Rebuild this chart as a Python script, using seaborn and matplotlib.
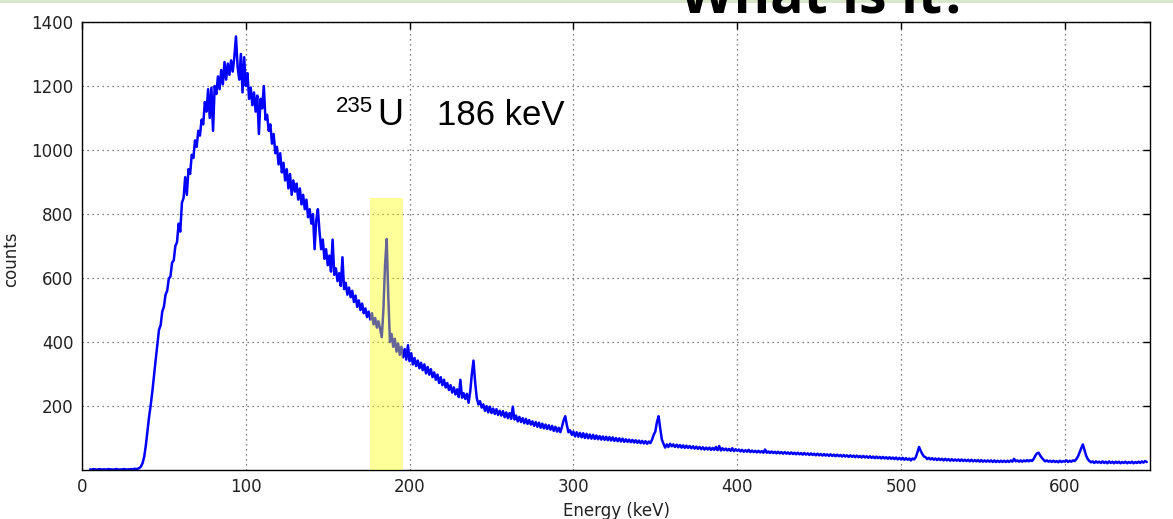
import numpy as np
import matplotlib
matplotlib.use("Agg")
import matplotlib.pyplot as plt
from matplotlib.lines import Line2D
import seaborn as sns

# ---- data (1 keV channels starting at 5 keV) ----
counts_rows = [
    [2, 1, 3, 2, 1, 2, 3, 1, 2, 2],                       # 5
    [1, 3, 2, 2, 1, 2, 3, 2, 1, 2],                       # 15
    [2, 3, 1, 2, 2, 3, 2, 4, 3, 4],                       # 25
    [6, 11, 22, 42, 78, 122, 168, 205, 248, 298],         # 35
    [345, 392, 438, 452, 495, 510, 548, 560, 598, 605],   # 45
    [648, 655, 700, 712, 770, 745, 835, 850, 915, 860],   # 55
    [940, 925, 985, 975, 1030, 1010, 1060, 1045, 1095, 1080],  # 65
    [1150, 1120, 1190, 1100, 1195, 1060, 1200, 1175, 1230, 1190],  # 75
    [1250, 1205, 1275, 1220, 1270, 1235, 1280, 1245, 1290, 1355],  # 85
    [1260, 1220, 1300, 1180, 1290, 1200, 1240, 1160, 1195, 1140],  # 95
    [1180, 1120, 1170, 1050, 1160, 1130, 1200, 1095, 1110, 1060],  # 105
    [1080, 1020, 1050, 990, 1010, 955, 990, 930, 960, 905],    # 115
    [940, 880, 925, 860, 905, 870, 895, 845, 880, 830],        # 125
    [860, 815, 845, 790, 815, 770, 800, 690, 780, 815],        # 135
    [745, 690, 720, 660, 690, 640, 670, 620, 720, 610],        # 145
    [630, 590, 615, 575, 665, 565, 585, 548, 570, 540],        # 155
    [560, 525, 545, 510, 530, 500, 520, 490, 505, 478],        # 165
    [495, 470, 490, 455, 475, 445, 465, 440, 415, 500],        # 175
    [640, 722, 540, 400, 425, 385, 410, 370, 395, 360],        # 185
    [385, 352, 378, 345, 390, 340, 365, 330, 350, 325],        # 195
    [342, 318, 335, 312, 330, 302, 322, 298, 315, 290],        # 205
    [305, 282, 298, 272, 290, 265, 282, 258, 272, 250],        # 215
    [265, 242, 258, 236, 252, 228, 282, 226, 240, 222],        # 225
    [238, 210, 245, 300, 342, 275, 225, 205, 215, 195],        # 235
    [205, 185, 200, 180, 198, 178, 192, 175, 190, 172],        # 245
    [185, 170, 184, 165, 180, 162, 178, 160, 198, 158],        # 255
    [170, 152, 166, 150, 162, 146, 160, 144, 156, 142],        # 265
    [152, 138, 150, 135, 148, 132, 145, 130, 142, 128],        # 275
    [140, 126, 138, 122, 135, 120, 132, 118, 135, 155],        # 285
    [168, 140, 118, 124, 110, 120, 105, 118, 104, 116],        # 295
    [102, 115, 100, 113, 99, 111, 98, 110, 97, 108],           # 305
    [96, 106, 95, 105, 94, 104, 93, 103, 92, 102],             # 315
    [91, 100, 90, 99, 89, 98, 88, 96, 88, 95],                 # 325
    [87, 94, 86, 93, 85, 92, 84, 91, 83, 90],                  # 335
    [82, 89, 84, 95, 110, 120, 150, 168, 130, 95],             # 345
    [82, 70, 80, 72, 82, 74, 80, 72, 79, 71],                  # 355
    [78, 70, 77, 69, 76, 69, 75, 68, 74, 67],                  # 365
    [73, 66, 72, 65, 71, 64, 70, 64, 70, 63],                  # 375
    [69, 63, 72, 62, 75, 61, 68, 62, 67, 61],                  # 385
    [66, 60, 68, 59, 65, 60, 64, 58, 63, 57],                  # 395
    [62, 57, 63, 56, 61, 56, 60, 55, 60, 55],                  # 405
    [59, 54, 64, 54, 58, 53, 58, 53, 57, 52],                  # 415
    [57, 52, 56, 51, 56, 51, 55, 50, 55, 50],                  # 425
    [54, 49, 54, 49, 53, 48, 53, 48, 52, 47],                  # 435
    [52, 47, 51, 46, 51, 46, 50, 45, 50, 45],                  # 445
    [49, 44, 49, 44, 48, 43, 48, 43, 47, 42],                  # 455
    [47, 42, 46, 41, 46, 41, 45, 40, 45, 40],                  # 465
    [44, 39, 44, 39, 43, 38, 43, 38, 42, 37],                  # 475
    [42, 37, 41, 36, 41, 36, 40, 35, 40, 35],                  # 485
    [39, 34, 39, 33, 38, 33, 38, 32, 37, 32],                  # 495
    [36, 30, 36, 33, 40, 55, 72, 60, 50, 42],                  # 505
    [40, 34, 38, 33, 37, 32, 36, 31, 36, 31],                  # 515
    [35, 30, 35, 30, 34, 29, 34, 29, 33, 29],                  # 525
    [33, 28, 33, 28, 32, 28, 32, 27, 32, 27],                  # 535
    [31, 27, 31, 26, 31, 26, 30, 26, 30, 26],                  # 545
    [30, 25, 30, 25, 29, 25, 29, 25, 29, 25],                  # 555
    [29, 25, 30, 26, 35, 27, 30, 26, 30, 26],                  # 565
    [30, 27, 31, 27, 31, 28, 35, 45, 52, 54],                  # 575
    [45, 38, 32, 27, 30, 26, 29, 25, 29, 25],                  # 585
    [28, 24, 29, 25, 28, 26, 30, 25, 29, 26],                  # 595
    [30, 28, 34, 42, 55, 68, 80, 62, 45, 34],                  # 605
    [28, 24, 27, 22, 27, 23, 26, 22, 27, 22],                  # 615
    [26, 21, 27, 22, 26, 21, 26, 22, 26, 21],                  # 625
    [25, 22, 26, 21, 25, 22, 26, 21, 25, 22],                  # 635
    [26, 22, 27, 23, 28, 25],                                  # 645
]
counts = [v for row in counts_rows for v in row]
first_channel_kev = 5
energy = np.arange(first_channel_kev, first_channel_kev + len(counts))

x_ticks = [0, 100, 200, 300, 400, 500, 600]
y_ticks = [200, 400, 600, 800, 1000, 1200, 1400]
band_kev = [176, 196]
band_top = 850
label_iso = "235"
label_el = "U"
label_energy = "186 keV"
title_text = "What is it?"

# ---- figure ----
sns.set_style("white")
plt.rcParams["font.family"] = ["DejaVu Sans"]

fig = plt.figure(figsize=(11.73, 5.19), dpi=100)
ax = fig.add_axes([0.0699, 0.0944, 0.9105, 0.8632])

sns.lineplot(x=energy, y=counts, ax=ax, color="#0000ff", linewidth=1.8,
             estimator=None, sort=False, zorder=2)

ax.axvspan(band_kev[0], band_kev[1], ymin=0, ymax=band_top / 1400,
           color="#ffff00", alpha=0.4, lw=0, zorder=3)

ax.set_xlim(0, 652)
ax.set_ylim(0, 1400)
ax.set_xticks(x_ticks)
ax.set_yticks(y_ticks)
ax.grid(True, linestyle=(0, (1, 3)), color="#555555", linewidth=0.9)
ax.set_axisbelow(True)
ax.tick_params(direction="in", top=True, right=True, length=5, width=1,
               labelsize=12, labelcolor="#222222", color="black", pad=6)
for s in ax.spines.values():
    s.set_visible(True)
    s.set_color("black")
    s.set_linewidth(1.0)

ax.set_xlabel("Energy (keV)", fontsize=12, color="#222222", labelpad=4)
ax.set_ylabel("counts", fontsize=12, color="#222222", labelpad=14)
ax.yaxis.set_label_coords(-0.058, 0.47)

ax.text(155, 1119, label_iso, fontsize=16, family="Liberation Sans",
        va="baseline", ha="left", color="black")
ax.text(180.5, 1078, label_el, fontsize=26, family="Liberation Sans",
        va="baseline", ha="left", color="black")
ax.text(216.5, 1078, label_energy, fontsize=25, family="Liberation Sans",
        va="baseline", ha="left", color="black")

fig.text(0.5797, 0.976, title_text, fontsize=40, fontweight="bold",
         family="Open Sans", va="baseline", ha="left", color="black")

fig.add_artist(Line2D([0, 1], [0.998, 0.998], transform=fig.transFigure,
                      color="#d4e6c3", linewidth=2))

fig.savefig("out.png", dpi=100)
